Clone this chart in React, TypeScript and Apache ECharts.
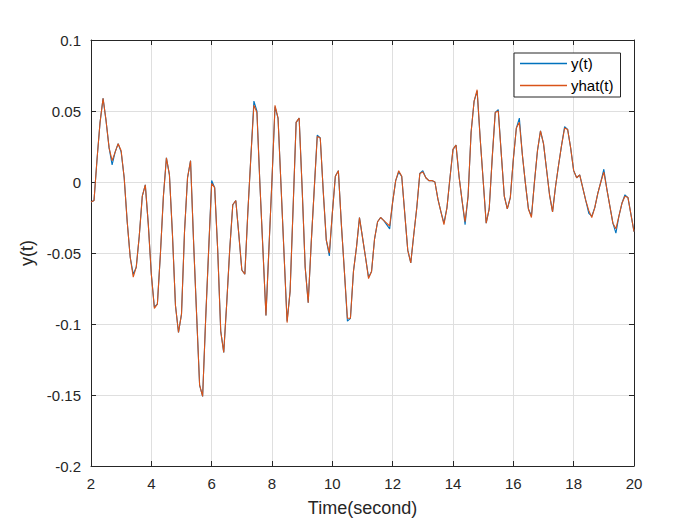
import React, { useEffect, useRef } from "react";
import * as echarts from "echarts";

// sampling grid of the time axis (seconds)
const T_START = 2;
const T_STEP = 0.1;

// measured output y(t), one row per second (2.0 .. 19.9), then 20.0
const Y_ACTUAL: number[] = [
  -0.014, -0.013, 0.016, 0.042, 0.059, 0.043, 0.024, 0.012, 0.021, 0.027,
  0.021, 0.003, -0.028, -0.053, -0.065, -0.060, -0.038, -0.010, -0.002, -0.030,
  -0.065, -0.088, -0.086, -0.051, -0.010, 0.017, 0.005, -0.037, -0.087, -0.106,
  -0.093, -0.035, 0.003, 0.015, -0.042, -0.093, -0.143, -0.151, -0.097, -0.048,
  0.001, -0.004, -0.048, -0.105, -0.120, -0.085, -0.047, -0.016, -0.013, -0.037,
  -0.062, -0.065, -0.021, 0.018, 0.057, 0.050, -0.002, -0.048, -0.094, -0.046,
  0.002, 0.053, 0.045, -0.003, -0.051, -0.098, -0.077, -0.018, 0.042, 0.045,
  -0.005, -0.060, -0.085, -0.043, -0.005, 0.033, 0.031, -0.007, -0.041, -0.052,
  -0.022, 0.004, 0.008, -0.030, -0.063, -0.098, -0.096, -0.063, -0.046, -0.025,
  -0.039, -0.053, -0.067, -0.063, -0.040, -0.028, -0.025, -0.027, -0.030, -0.033,
  -0.014, 0.001, 0.007, 0.004, -0.022, -0.048, -0.057, -0.037, -0.018, 0.006,
  0.008, 0.003, 0.001, 0.001, 0.000, -0.012, -0.021, -0.029, -0.018, 0.003,
  0.023, 0.026, 0.004, -0.013, -0.030, -0.010, 0.035, 0.057, 0.064, 0.031,
  0.001, -0.029, -0.019, 0.017, 0.049, 0.051, 0.020, -0.010, -0.019, -0.011,
  0.016, 0.038, 0.045, 0.019, -0.001, -0.019, -0.024, 0.000, 0.022, 0.036,
  0.027, 0.009, -0.009, -0.021, -0.003, 0.012, 0.026, 0.039, 0.037, 0.024,
  0.008, 0.003, 0.005, -0.004, -0.013, -0.022, -0.024, -0.018, -0.008, 0.000,
  0.009, -0.005, -0.017, -0.029, -0.036, -0.024, -0.015, -0.009, -0.011, -0.023,
  -0.035,
];

// model prediction yhat(t)
const Y_HAT: number[] = [
  -0.014, -0.013, 0.016, 0.042, 0.059, 0.043, 0.024, 0.015, 0.021, 0.027,
  0.022, 0.003, -0.028, -0.053, -0.067, -0.060, -0.038, -0.010, -0.002, -0.030,
  -0.065, -0.089, -0.086, -0.051, -0.010, 0.017, 0.005, -0.037, -0.087, -0.106,
  -0.093, -0.035, 0.003, 0.015, -0.042, -0.093, -0.143, -0.151, -0.097, -0.048,
  -0.001, -0.004, -0.048, -0.105, -0.120, -0.085, -0.047, -0.016, -0.013, -0.037,
  -0.062, -0.065, -0.021, 0.018, 0.054, 0.049, -0.002, -0.048, -0.094, -0.046,
  0.002, 0.054, 0.045, -0.003, -0.051, -0.099, -0.077, -0.018, 0.042, 0.045,
  -0.005, -0.060, -0.085, -0.043, -0.005, 0.032, 0.031, -0.007, -0.041, -0.050,
  -0.022, 0.004, 0.008, -0.030, -0.063, -0.096, -0.096, -0.063, -0.046, -0.025,
  -0.039, -0.053, -0.068, -0.063, -0.040, -0.028, -0.025, -0.027, -0.029, -0.031,
  -0.014, 0.001, 0.008, 0.004, -0.022, -0.048, -0.057, -0.037, -0.018, 0.006,
  0.007, 0.003, 0.001, 0.001, 0.000, -0.012, -0.021, -0.030, -0.018, 0.003,
  0.023, 0.026, 0.004, -0.013, -0.028, -0.010, 0.035, 0.057, 0.065, 0.031,
  0.001, -0.029, -0.019, 0.017, 0.049, 0.050, 0.020, -0.010, -0.019, -0.011,
  0.016, 0.038, 0.042, 0.019, -0.001, -0.019, -0.025, 0.000, 0.022, 0.036,
  0.027, 0.009, -0.009, -0.021, -0.003, 0.012, 0.026, 0.038, 0.037, 0.024,
  0.008, 0.003, 0.005, -0.004, -0.013, -0.020, -0.025, -0.018, -0.008, 0.000,
  0.007, -0.005, -0.017, -0.029, -0.033, -0.024, -0.015, -0.010, -0.011, -0.023,
  -0.035,
];

const SERIES_NAMES = ["y(t)", "yhat(t)"];
const SERIES_COLORS = ["#0072BD", "#D95319"];
const X_MIN = 2, X_MAX = 20, X_INTERVAL = 2;
const Y_MIN = -0.2, Y_MAX = 0.1, Y_INTERVAL = 0.05;

const FONT = "'Liberation Sans', Arial, sans-serif";
const INK = "#262626";

const toPairs = (vals: number[]) =>
  vals.map((v, i) => [+(T_START + i * T_STEP).toFixed(1), v]);

export default function App() {
  const ref = useRef<HTMLDivElement>(null);
  useEffect(() => {
    if (!ref.current) return;
    const chart = echarts.init(ref.current, undefined, { renderer: "svg" });
    const fmtY = (v: number) => String(+v.toFixed(2));
    const baseX = {
      type: "value" as const,
      min: X_MIN,
      max: X_MAX,
      interval: X_INTERVAL,
    };
    const baseY = {
      type: "value" as const,
      min: Y_MIN,
      max: Y_MAX,
      interval: Y_INTERVAL,
    };
    const tick = { show: true, inside: true, length: 5, lineStyle: { color: INK } };
    const line = { show: true, onZero: false, lineStyle: { color: INK, width: 1 } };
    chart.setOption({
      animation: false,
      backgroundColor: "#ffffff",
      grid: { left: 91, right: 66, top: 40, bottom: 59, containLabel: false },
      legend: {
        data: SERIES_NAMES.map((n, i) => ({
          name: n,
          icon: "rect",
          itemStyle: { color: SERIES_COLORS[i], borderWidth: 0 },
        })),
        orient: "vertical",
        left: 514,
        top: 53,
        itemWidth: 47,
        itemHeight: 1.3,
        itemGap: 7,
        padding: [3, 7, 4, 6],
        borderColor: INK,
        borderWidth: 1,
        borderRadius: 0,
        backgroundColor: "#ffffff",
        textStyle: { fontFamily: FONT, fontSize: 15, color: "#000", padding: [0, 0, 0, -1] },
      },
      xAxis: [
        {
          ...baseX,
          position: "bottom",
          name: "Time(second)",
          nameLocation: "middle",
          nameGap: 33,
          nameTextStyle: { fontFamily: FONT, fontSize: 18, color: INK },
          axisLine: line,
          axisTick: tick,
          axisLabel: { fontFamily: FONT, fontSize: 15, color: INK, margin: 10 },
          splitLine: { show: true, lineStyle: { color: "#dfdfdf", width: 1 } },
        },
        {
          ...baseX,
          position: "top",
          axisLine: line,
          axisTick: tick,
          axisLabel: { show: false },
          splitLine: { show: false },
        },
      ],
      yAxis: [
        {
          ...baseY,
          position: "left",
          name: "y(t)",
          nameLocation: "middle",
          nameGap: 49,
          nameTextStyle: { fontFamily: FONT, fontSize: 18, color: INK },
          axisLine: line,
          axisTick: tick,
          axisLabel: { fontFamily: FONT, fontSize: 15, color: INK, margin: 10, formatter: fmtY },
          splitLine: { show: true, lineStyle: { color: "#dfdfdf", width: 1 } },
        },
        {
          ...baseY,
          position: "right",
          axisLine: line,
          axisTick: tick,
          axisLabel: { show: false },
          splitLine: { show: false },
        },
      ],
      series: [
        {
          name: SERIES_NAMES[0],
          type: "line",
          data: toPairs(Y_ACTUAL),
          showSymbol: false,
          symbol: "none",
          itemStyle: { color: SERIES_COLORS[0] },
          lineStyle: { color: SERIES_COLORS[0], width: 1.1 },
          xAxisIndex: 0,
          yAxisIndex: 0,
        },
        {
          name: SERIES_NAMES[1],
          type: "line",
          data: toPairs(Y_HAT),
          showSymbol: false,
          symbol: "none",
          itemStyle: { color: SERIES_COLORS[1] },
          lineStyle: { color: SERIES_COLORS[1], width: 1.1 },
          xAxisIndex: 0,
          yAxisIndex: 0,
        },
      ],
    });
    return () => chart.dispose();
  }, []);
  return <div ref={ref} style={{ width: 700, height: 525, position: "absolute", left: 0, top: 0 }} />;
}
